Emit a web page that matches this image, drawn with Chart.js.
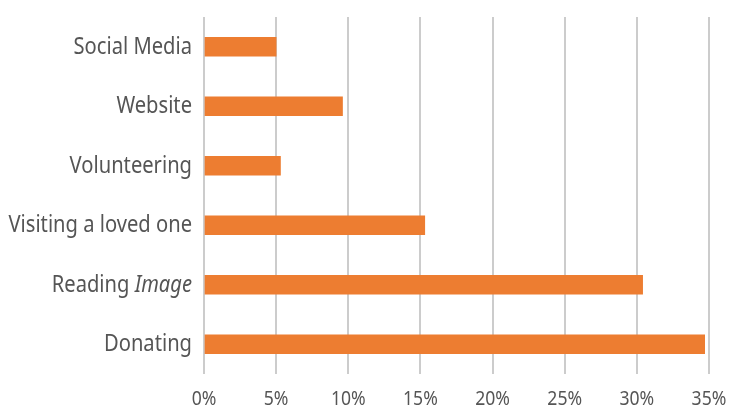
<!DOCTYPE html>
<html>
<head>
<meta charset="utf-8">
<script src="https://cdn.jsdelivr.net/npm/chart.js@4/dist/chart.umd.min.js"></script>
<style>
  html, body { margin: 0; padding: 0; background: #fff; }
  #wrap { width: 734px; height: 411px; }
</style>
</head>
<body>
<div id="wrap"><canvas id="chart"></canvas></div>
<script>
const CATEGORIES = ['Social Media', 'Website', 'Volunteering', 'Visiting a loved one', 'Reading Image', 'Donating'];
const VALUES = [5.0, 9.6, 5.3, 15.3, 30.4, 34.7];
const X_TICKS = [0, 5, 10, 15, 20, 25, 30, 35];
const ITALIC_PART = { 'Reading Image': ['Reading ', 'Image'] }; // second part set in italic

const FONT = '"Noto Sans", "Open Sans", sans-serif';
const BAR_COLOR = '#ed7d31';
const LABEL_COLOR = '#555555';
const GRID_COLOR = '#cccccc';
const SQUEEZE = 0.84; // the original uses a condensed face
const TICK_SQUEEZE = 0.88;

// category and value labels, drawn narrow to imitate the condensed font
const labels = {
  id: 'labels',
  afterDraw(chart) {
    const { ctx, scales: { x, y } } = chart;
    ctx.save();
    ctx.fillStyle = LABEL_COLOR;
    ctx.textBaseline = 'middle';

    CATEGORIES.forEach((c, i) => {
      const py = y.getPixelForValue(i);
      const right = (x.left - 12) / SQUEEZE;
      ctx.save();
      ctx.scale(SQUEEZE, 1);
      ctx.textAlign = 'right';
      const parts = ITALIC_PART[c];
      if (parts) {
        ctx.font = `italic 24px ${FONT}`;
        const w2 = ctx.measureText(parts[1]).width;
        ctx.fillText(parts[1], right, py);
        ctx.font = `24px ${FONT}`;
        ctx.fillText(parts[0], right - w2, py);
      } else {
        ctx.font = `24px ${FONT}`;
        ctx.fillText(c, right, py);
      }
      ctx.restore();
    });

    ctx.font = `20px ${FONT}`;
    ctx.textAlign = 'center';
    X_TICKS.forEach(v => {
      const px = x.getPixelForValue(v);
      ctx.save();
      ctx.scale(TICK_SQUEEZE, 1);
      ctx.fillText(v + '%', px / TICK_SQUEEZE, x.top + 25);
      ctx.restore();
    });
    ctx.restore();
  },
};

new Chart(document.getElementById('chart'), {
  type: 'bar',
  data: {
    labels: CATEGORIES,
    datasets: [{
      data: VALUES,
      backgroundColor: BAR_COLOR,
      barThickness: 19,
    }],
  },
  options: {
    indexAxis: 'y',
    responsive: true,
    maintainAspectRatio: false,
    animation: false,
    layout: { padding: { top: 17, right: 25, bottom: 0, left: 0 } },
    plugins: { legend: { display: false }, tooltip: { enabled: false } },
    scales: {
      x: {
        min: X_TICKS[0],
        max: X_TICKS[X_TICKS.length - 1],
        ticks: { stepSize: 5, display: false },
        grid: { color: GRID_COLOR, lineWidth: 2, drawTicks: false },
        border: { display: false },
        afterFit: s => { s.height = 37; },
      },
      y: {
        ticks: { display: false },
        grid: { display: false },
        border: { display: false },
        afterFit: s => { s.width = 204; },
      },
    },
  },
  plugins: [labels],
});
</script>
</body>
</html>
